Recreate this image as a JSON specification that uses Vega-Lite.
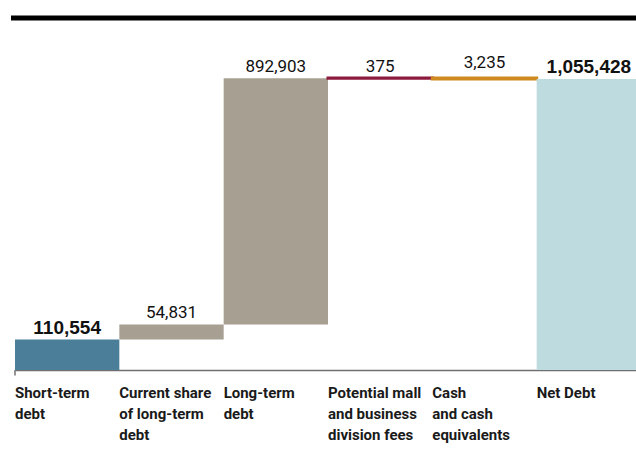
{
  "$schema": "https://vega.github.io/schema/vega-lite/v6.json",
  "width": 625,
  "height": 352,
  "autosize": {"type": "none"},
  "padding": {"left": 11, "top": 18, "right": 0, "bottom": 83},
  "background": "white",
  "view": {"stroke": null},
  "config": {"font": "Roboto"},
  "data": {
    "values": [
      {"cat": "Short-term|debt", "kind": "start", "start": 0, "end": 110554, "amount": 110554},
      {"cat": "Current share|of long-term|debt", "kind": "increase", "start": 110554, "end": 165385, "amount": 54831},
      {"cat": "Long-term|debt", "kind": "increase", "start": 165385, "end": 1058288, "amount": 892903},
      {"cat": "Potential mall|and business|division fees", "kind": "fee", "start": 1058288, "end": 1058663, "amount": 375},
      {"cat": "Cash|and cash|equivalents", "kind": "cash", "start": 1058663, "end": 1055428, "amount": 3235},
      {"cat": "Net Debt", "kind": "total", "start": 0, "end": 1055428, "amount": 1055428}
    ]
  },
  "layer": [
    {
      "mark": {"type": "bar"},
      "encoding": {
        "x": {
          "field": "cat", "type": "nominal", "sort": null,
          "scale": {"range": [4, 630], "paddingInner": 0, "paddingOuter": 0},
          "axis": {
            "title": null, "orient": "bottom", "ticks": false,
            "domainColor": "#707070", "domainWidth": 1.5,
            "labelAngle": 0, "labelAlign": "left", "labelBaseline": "top", "labelPadding": 15,
            "labelOffset": -52.2,
            "labelFont": "Roboto", "labelFontWeight": "bold", "labelFontSize": 15,
            "labelColor": "#1a1a1a", "labelLineHeight": 21, "labelOverlap": false, "labelBound": false,
            "labelExpr": "split(datum.value, '|')"
          }
        },
        "y": {"field": "start", "type": "quantitative", "scale": {"domain": [0, 1276700], "nice": false, "zero": false}, "axis": null},
        "y2": {"field": "end"},
        "color": {
          "field": "kind", "type": "nominal", "legend": null,
          "scale": {"domain": ["start", "increase", "fee", "cash", "total"], "range": ["#4b7f99", "#a79f92", "#8c1a3c", "#cf8a1f", "#bedcdf"]}
        },
        "stroke": {
          "field": "kind", "type": "nominal", "legend": null,
          "scale": {"domain": ["start", "increase", "fee", "cash", "total"], "range": ["#4b7f99", "#a79f92", "#8c1a3c", "#cf8a1f", "#bedcdf"]}
        },
        "strokeWidth": {"condition": {"test": "datum.kind === 'fee' || datum.kind === 'cash'", "value": 3}, "value": 0}
      }
    },
    {
      "transform": [{"filter": "datum.kind === 'start'"}],
      "mark": {"type": "rule", "color": "#707070", "strokeWidth": 1.5},
      "encoding": {
        "x": {"field": "cat", "type": "nominal", "sort": null, "bandPosition": 0},
        "y": {"datum": 0},
        "y2": {"datum": -20000}
      }
    },
    {
      "transform": [{"filter": "datum.kind === 'start' || datum.kind === 'total'"}],
      "mark": {"type": "text", "font": "Liberation Sans", "fontWeight": "bold", "fontSize": 19, "baseline": "alphabetic", "dy": -6, "color": "#111111"},
      "encoding": {
        "x": {"field": "cat", "type": "nominal", "sort": null},
        "y": {"field": "end", "type": "quantitative"},
        "text": {"field": "amount", "type": "quantitative", "format": ",d"}
      }
    },
    {
      "transform": [{"filter": "datum.kind === 'increase' || datum.kind === 'fee'"}],
      "mark": {"type": "text", "font": "Roboto", "fontSize": 17, "baseline": "alphabetic", "dy": -6, "color": "#111111"},
      "encoding": {
        "x": {"field": "cat", "type": "nominal", "sort": null},
        "y": {"field": "end", "type": "quantitative"},
        "text": {"field": "amount", "type": "quantitative", "format": ",d"}
      }
    },
    {
      "transform": [{"filter": "datum.kind === 'cash'"}],
      "mark": {"type": "text", "font": "Roboto", "fontSize": 17, "baseline": "alphabetic", "dy": -11, "color": "#111111"},
      "encoding": {
        "x": {"field": "cat", "type": "nominal", "sort": null},
        "y": {"field": "end", "type": "quantitative"},
        "text": {"field": "amount", "type": "quantitative", "format": ",d"}
      }
    },
    {
      "data": {"values": [{"line": "top"}]},
      "mark": {"type": "rule", "color": "#000000", "strokeWidth": 5},
      "encoding": {"y": {"datum": 1276700}}
    }
  ]
}
